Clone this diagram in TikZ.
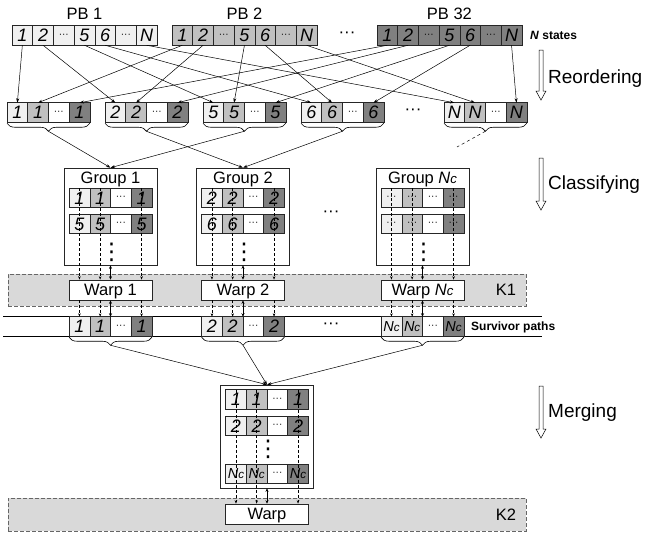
\documentclass[tikz,border=0pt]{standalone}
\usepackage{fontspec}
\setmainfont{Liberation Sans}
\newfontfamily\symfont{DejaVu Sans}
\usepackage{xcolor}
\usepackage{tikz}
\usetikzlibrary{arrows.meta, positioning, decorations.pathreplacing}

\definecolor{cellLight}{HTML}{F0F0F0}
\definecolor{cellMid}{HTML}{C0C0C0}
\definecolor{cellDark}{HTML}{808080}
\definecolor{bandGray}{HTML}{D9D9D9}

\newcommand{\cellfont}{\fontsize{18}{18}\selectfont\itshape}
\newcommand{\ncfont}{\fontsize{14.5}{14.5}\selectfont\itshape}
\newcommand{\lblfont}{\fontsize{16.5}{16.5}\selectfont}
\newcommand{\sidefont}{\fontsize{19}{19}\selectfont}
\newcommand{\smallbf}{\fontsize{12}{12}\selectfont\bfseries}
\newcommand{\dts}{{\upshape\fontsize{10}{10}\selectfont\textperiodcentered\textperiodcentered\textperiodcentered}}
\newcommand{\bigdts}{{\fontsize{17}{17}\selectfont\textperiodcentered\textperiodcentered\textperiodcentered}}
\newcommand{\vdts}{{\symfont\fontsize{23}{23}\selectfont ⋮}}
\newcommand{\Nc}{\textit{N}\scalebox{0.8}{\textit{c}}}

% four cells: light, mid, white (dots), dark
\newcommand{\quadrow}[4][]{%
  \node[cell, fill=cellLight, anchor=west, #1] (#2-1) at (#3) {#4};
  \node[cell, fill=cellMid, right=0pt of #2-1, #1] (#2-2) {#4};
  \node[cell, fill=white, right=0pt of #2-2, #1] (#2-3) {\dts};
  \node[cell, fill=cellDark, right=0pt of #2-3, #1] (#2-4) {#4};}

% hollow stage arrow
\newcommand{\downhollow}[3]{%
  \draw[fill=white, line width=0.5pt] (#1-2,#2) -- (#1-2,#3-9) -- (#1-5,#3-9) -- (#1,#3)
    -- (#1+5,#3-9) -- (#1+2,#3-9) -- (#1+2,#2) -- cycle;}

\begin{document}
\begin{tikzpicture}[
    x=1pt, y=-1pt,
    cell/.style={rectangle, draw=black!85, line width=0.6pt, minimum width=20.7pt, minimum height=19.5pt, inner sep=0pt, outer sep=0pt, font=\cellfont},
    grp/.style={rectangle, draw=black!85, line width=0.6pt, fill=white, minimum width=93pt, minimum height=97pt},
    warp/.style={rectangle, draw=black!85, line width=0.6pt, fill=white, minimum width=82.8pt, minimum height=20pt, inner sep=0pt, text depth=0pt, font=\lblfont},
    band/.style={rectangle, draw=black!60, dashed, dash pattern=on 4pt off 2pt, line width=0.6pt, fill=bandGray, minimum width=518pt, minimum height=32pt},
    lbl/.style={inner sep=0pt, font=\lblfont},
    side/.style={inner sep=0pt, font=\sidefont, anchor=base west},
    small/.style={inner sep=0pt, font=\smallbf},
    vd/.style={inner sep=0pt, text depth=0pt},
    brc/.style={decorate, decoration={brace, mirror, amplitude=8pt, raise=1pt}, line width=0.6pt},
    arrow/.style={-{Stealth[length=4.5pt, width=3pt]}, line width=0.5pt},
    dline/.style={-{Stealth[length=3.5pt, width=2.5pt]}, dashed, dash pattern=on 3pt off 2pt, line width=0.5pt},
    dbl/.style={{Stealth[length=3.5pt, width=3pt]}-{Stealth[length=3.5pt, width=3pt]}, line width=0.8pt}
  ]
    \useasboundingbox (0,0) rectangle (654,536);

    % kernel bands
    \node[band] (k1) at (267,290) {};
    \node[band, minimum height=33pt] (k2) at (267,514.5) {};
    \node[lbl, left=10pt of k1.east] (k1l) {K1};
    \node[lbl, left=10pt of k2.east] (k2l) {K2};

    % path buffers
    \foreach \b/\x/\col in {1/12/cellLight, 2/172/cellMid, 32/377/cellDark} {
      \foreach \t [count=\i] in {1,2,\dts,5,6,\dts,N} {
        \node[cell, fill=\col] (pb\b-\i) at (\x+20.7*\i-10.35,35.5) {\t};
      }
      \node[lbl, above=6pt of pb\b-4] (pbl\b) {PB \b};
    }
    \node (pbdots) at (347,35) {\bigdts};
    \node[small, anchor=base west] (nst) at (530,39.5) {\textit{N} states};

    % reordered states
    \foreach \n/\x in {1/7, 2/105, 5/203, 6/301, N/444} {
      \quadrow{r\n}{\x,112.5}{\n}
      \draw[brc] (r\n-1.south west) -- (r\n-4.south east);
      \coordinate (t\n) at ([yshift=-9pt]r\n-2.south east);
    }
    \node (rdots) at (413,112) {\bigdts};

    \foreach \src/\dst in {pb1-1/r1-1, pb1-2/r2-1, pb1-4/r5-1, pb1-5/r6-1, pb1-7/rN-1,
                           pb2-1/r1-2, pb2-2/r2-2, pb2-4/r5-2, pb2-5/r6-2, pb2-7/rN-2,
                           pb32-1/r1-4, pb32-2/r2-4, pb32-4/r5-4, pb32-5/r6-4, pb32-7/rN-4}
      \draw[arrow] (\src.south) -- (\dst.north);

    % groups
    \node[grp] (g1) at (110.5,216.5) {};
    \node[grp] (g2) at (243,216.5) {};
    \node[grp] (gN) at (422.5,216.5) {};
    \node[lbl, below=4pt of g1.north] (g1l) {Group 1};
    \node[lbl, below=4pt of g2.north] (g2l) {Group 2};
    \node[lbl, below=4pt of gN.north] (gNl) {Group \Nc};
    \quadrow{a1}{69.1,198}{1}
    \quadrow{b1}{69.1,224}{5}
    \quadrow{a2}{201.6,198}{2}
    \quadrow{b2}{201.6,224}{6}
    \quadrow{aN}{381.1,198}{\dts}
    \quadrow{bN}{381.1,224}{\dts}
    \node[vd] (v1) at (111.5,251.5) {\vdts};
    \node[vd] (v2) at (244,251.5) {\vdts};
    \node[vd] (vN) at (423.5,251.5) {\vdts};
    \node (gdots) at (331,214) {\bigdts};

    \draw[arrow] (t1) -- (g1.north);
    \draw[arrow] (t5) -- (g1.north);
    \draw[arrow] (t2) -- (g2.north);
    \draw[arrow] (t6) -- (g2.north);
    \coordinate (tNend) at (457,147);
    \draw[dashed, line width=0.5pt] (tN) -- (tNend);

    % warps of K1
    \node[warp] (w1) at (110.5,290) {Warp 1};
    \node[warp] (w2) at (243,290) {Warp 2};
    \node[warp] (wN) at (422.5,290) {Warp \Nc};

    % survivor paths
    \draw[line width=0.6pt] (3,316.75) -- (542,316.75);
    \draw[line width=0.6pt] (3,336.25) -- (542,336.25);
    \quadrow{s1}{69.1,326.5}{1}
    \quadrow{s2}{201.6,326.5}{2}
    \quadrow[font=\ncfont]{sN}{381.1,326.5}{\Nc}
    \node (sdots) at (331,326) {\bigdts};
    \node[small, anchor=base west] (svp) at (471,330) {Survivor paths};
    \foreach \n in {1,2,N} {
      \draw[brc] (s\n-1.south west) -- (s\n-4.south east);
      \coordinate (u\n) at ([yshift=-9pt]s\n-2.south east);
    }

    \foreach \g in {1,2,N} {
      \foreach \c in {1,2,4} {
        \draw[dline] (a\g-\c.north) -- (a\g-\c.north |- w\g.north);
        \draw[dline] (w\g.south -| a\g-\c) -- (s\g-\c.north);
      }
      \draw[dbl] (g\g.south) -- (g\g.south |- w\g.north);
      \draw[dbl] (w\g.south) -- (w\g.south |- s\g-1.north);
    }

    % merging
    \node[grp, minimum height=103pt] (m) at (267,436.5) {};
    \quadrow{m1}{225.6,399.5}{1}
    \quadrow{m2}{225.6,426}{2}
    \quadrow[font=\ncfont]{mN}{225.6,474}{\Nc}
    \node[vd] (vm) at (268,448.5) {\vdts};
    \draw[arrow] (u1) -- (m.north);
    \draw[arrow] (u2) -- (m.north);
    \draw[arrow] (uN) -- (m.north);

    \node[warp] (wm) at (267,514) {Warp};
    \foreach \c in {1,2,4}
      \draw[dline] (m1-\c.north) -- (m1-\c.north |- wm.north);
    \draw[dbl] (m.south) -- (m.south |- wm.north);

    % stages
    \downhollow{541}{50}{100}
    \downhollow{541}{158}{210}
    \downhollow{541}{386}{438}
    \node[side] (reo) at (548,83) {Reordering};
    \node[side] (cls) at (548,189.5) {Classifying};
    \node[side] (mrg) at (548,417) {Merging};
\end{tikzpicture}
\end{document}
